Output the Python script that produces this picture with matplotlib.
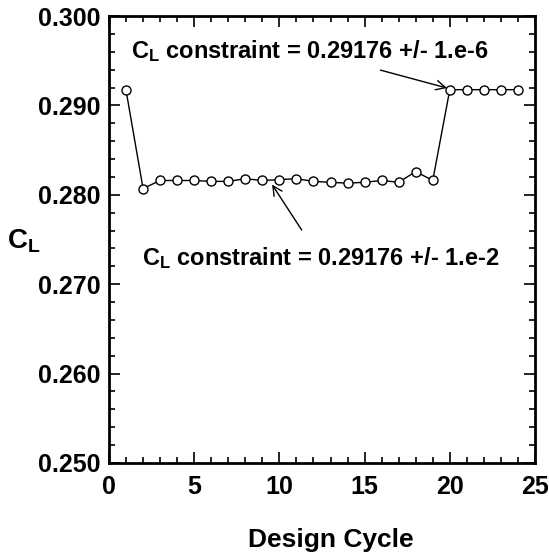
import numpy as np
import matplotlib
matplotlib.use("Agg")
import matplotlib.pyplot as plt
from matplotlib.ticker import MultipleLocator, FormatStrFormatter

plt.rcParams['font.family'] = ['Liberation Sans', 'DejaVu Sans']
plt.rcParams['font.weight'] = 'bold'
plt.rcParams['mathtext.fontset'] = 'custom'
plt.rcParams['mathtext.rm'] = 'Liberation Sans:bold'
plt.rcParams['mathtext.bf'] = 'Liberation Sans:bold'
plt.rcParams['mathtext.it'] = 'Liberation Sans:bold'

# design cycle history of lift coefficient
cycle = np.arange(1, 25)
cl = [0.2917, 0.2807, 0.2816, 0.2816, 0.2816, 0.2815, 0.2815, 0.2818,
      0.2816, 0.2817, 0.2818, 0.2815, 0.2814, 0.2813, 0.2814, 0.2816,
      0.2814, 0.2826, 0.2816, 0.29176, 0.29176, 0.29176, 0.29176, 0.29176]

fig = plt.figure(figsize=(5.49, 5.54), dpi=100)
ax = fig.add_axes([0.1985, 0.1643, 0.776, 0.8068])

ax.plot(cycle, cl, color='black', lw=1.0, marker='o', ms=6.5,
        mfc='white', mec='black', mew=1.0)

ax.set_xlim(0, 25)
ax.set_ylim(0.25, 0.30)
ax.xaxis.set_major_locator(MultipleLocator(5))
ax.xaxis.set_minor_locator(MultipleLocator(1))
ax.yaxis.set_major_locator(MultipleLocator(0.01))
ax.yaxis.set_minor_locator(MultipleLocator(0.002))
ax.yaxis.set_major_formatter(FormatStrFormatter('%.3f'))
ax.tick_params(which='both', direction='in', top=True, right=True,
               labelsize=18, width=1.2)
ax.tick_params(axis='y', pad=6)
ax.tick_params(axis='x', pad=9)
ax.tick_params(which='major', length=8)
ax.tick_params(which='minor', length=4)
for s in ax.spines.values():
    s.set_linewidth(2)

ax.set_xlabel('Design Cycle', fontsize=19, fontweight='bold')
ax.xaxis.set_label_coords(0.521, -0.145)
ax.set_ylabel(r'$\mathrm{C_L}$', fontsize=20, rotation=0)
ax.yaxis.set_label_coords(-0.2, 0.465)

ax.annotate(r'$\mathrm{C_L}$ constraint = 0.29176 +/- 1.e-6',
            xy=(19.84, 0.29194), xytext=(11.8, 0.29607),
            ha='center', va='center', fontsize=17, fontweight='bold',
            arrowprops=dict(arrowstyle='->', color='black', lw=1.0,
                            shrinkA=9, shrinkB=0))
ax.annotate(r'$\mathrm{C_L}$ constraint = 0.29176 +/- 1.e-2',
            xy=(9.57, 0.28115), xytext=(12.4, 0.27287),
            ha='center', va='center', fontsize=17, fontweight='bold',
            arrowprops=dict(arrowstyle='->', color='black', lw=1.0,
                            shrinkA=11, shrinkB=0))

fig.savefig('out.png', dpi=100)
